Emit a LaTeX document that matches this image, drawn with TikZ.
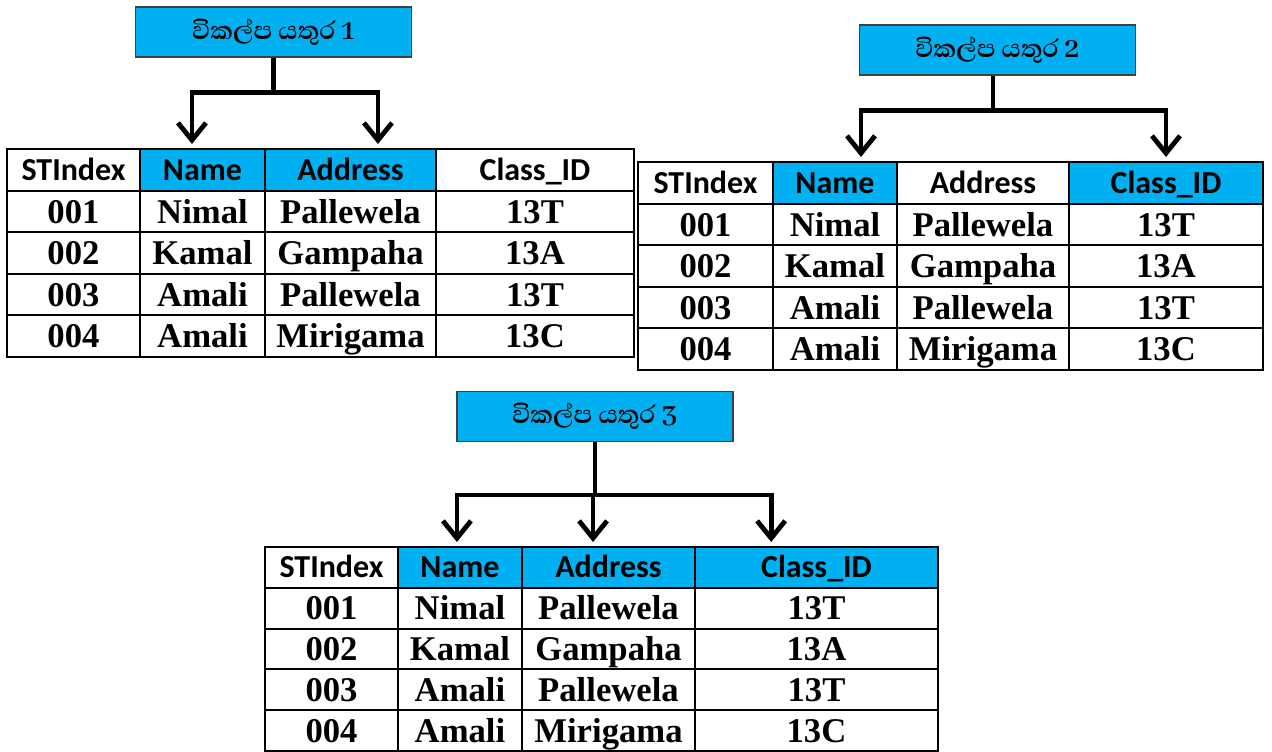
\documentclass[tikz,border=0pt]{standalone}
\usepackage{fontspec}
\setmainfont{Liberation Serif}
\newfontfamily\hdfont{Carlito}
\newfontfamily\sinhalafont[Script=Sinhala]{Abhaya Libre}
\usetikzlibrary{arrows.meta}

\definecolor{keyblue}{HTML}{00B0F0}

% column values, the same in all three tables
\def\colvalsi{001,002,003,004}
\def\colvalsii{Nimal,Kamal,Amali,Amali}
\def\colvalsiii{Pallewela,Gampaha,Pallewela,Mirigama}
\def\colvalsiv{13T,13A,13T,13C}

% #1 name, #2 top, #3 row height, #4 columns (no/left/right/fill/header)
\newcommand{\sttable}[4]{%
  \foreach \c/\xl/\xr/\fc/\hd in {#4} {
    \node[hcell, fill=\fc, minimum width={(\xr-\xl)*0.75pt}, minimum height={#3*0.75pt}]
      (#1-h\c) at ({(\xl+\xr)/2}, {#2+#3/2}) {\hd};
    \expandafter\let\expandafter\vals\csname colvals\romannumeral\c\endcsname
    \foreach \v [count=\rw] in \vals {
      \node[dcell, minimum width={(\xr-\xl)*0.75pt}, minimum height={#3*0.75pt}]
        (#1-\rw-\c) at ({(\xl+\xr)/2}, {#2+#3*(\rw+0.5)}) {\v};
    }
  }%
}

\begin{document}
\begin{tikzpicture}[
  x=0.75pt, y=-0.75pt,
  keybox/.style={draw=black!75, line width=0.8pt, fill=keyblue, minimum width=207pt,
    minimum height=37.5pt, inner sep=0pt, font=\sinhalafont\bfseries\fontsize{24}{26}\selectfont},
  hcell/.style={draw, line width=1.5pt, inner sep=0pt, text height=15.4pt, text depth=0pt,
    font=\hdfont\bfseries\fontsize{24}{26}\selectfont},
  dcell/.style={draw, line width=1.5pt, fill=white, inner sep=0pt, text height=17.6pt, text depth=0pt,
    font=\bfseries\fontsize{26}{28}\selectfont},
  arr/.style={-{Straight Barb[length=13pt,width=21pt]}, line width=3.6pt, shorten >=3pt}
]
\useasboundingbox (0,0) rectangle (1272,752);

% alternate key 1
\node[keybox] (key1) at (273.5,32) {විකල්ප යතුර 1};
\sttable{t1}{149}{41.6}{1/7/140/white/STIndex, 2/140/265/keyblue/Name,
  3/265/436/keyblue/Address, 4/436/634/white/Class\_ID}
\draw[arr] (key1.south) -- ++(0,35) -| ([xshift=-7.9pt]t1-h2.north);
\draw[arr] (key1.south) -- ++(0,35) -| ([xshift=20.6pt]t1-h3.north);

% alternate key 2
\node[keybox] (key2) at (997.5,50) {විකල්ප යතුර 2};
\sttable{t2}{162}{41.6}{1/638/773/white/STIndex, 2/773/897/keyblue/Name,
  3/897/1069/white/Address, 4/1069/1263/keyblue/Class\_ID}
\draw[arr] ([xshift=-3.4pt]key2.south) -- ++(0,35) -| ([xshift=19.5pt]t2-h2.north);
\draw[arr] ([xshift=-3.4pt]key2.south) -- ++(0,35) -| (t2-h4.north);

% alternate key 3
\node[keybox] (key3) at (595,416.5) {විකල්ප යතුර 3};
\sttable{t3}{547}{40.8}{1/265/398/white/STIndex, 2/398/522/keyblue/Name,
  3/522/695/keyblue/Address, 4/695/938/keyblue/Class\_ID}
\draw[arr] (key3.south) -- ++(0,53) -| ([xshift=-2.3pt]t3-h2.north);
\draw[arr] (key3.south) -- ++(0,53) -| ([xshift=-11.6pt]t3-h3.north);
\draw[arr] (key3.south) -- ++(0,53) -| ([xshift=-34pt]t3-h4.north);
\end{tikzpicture}
\end{document}
